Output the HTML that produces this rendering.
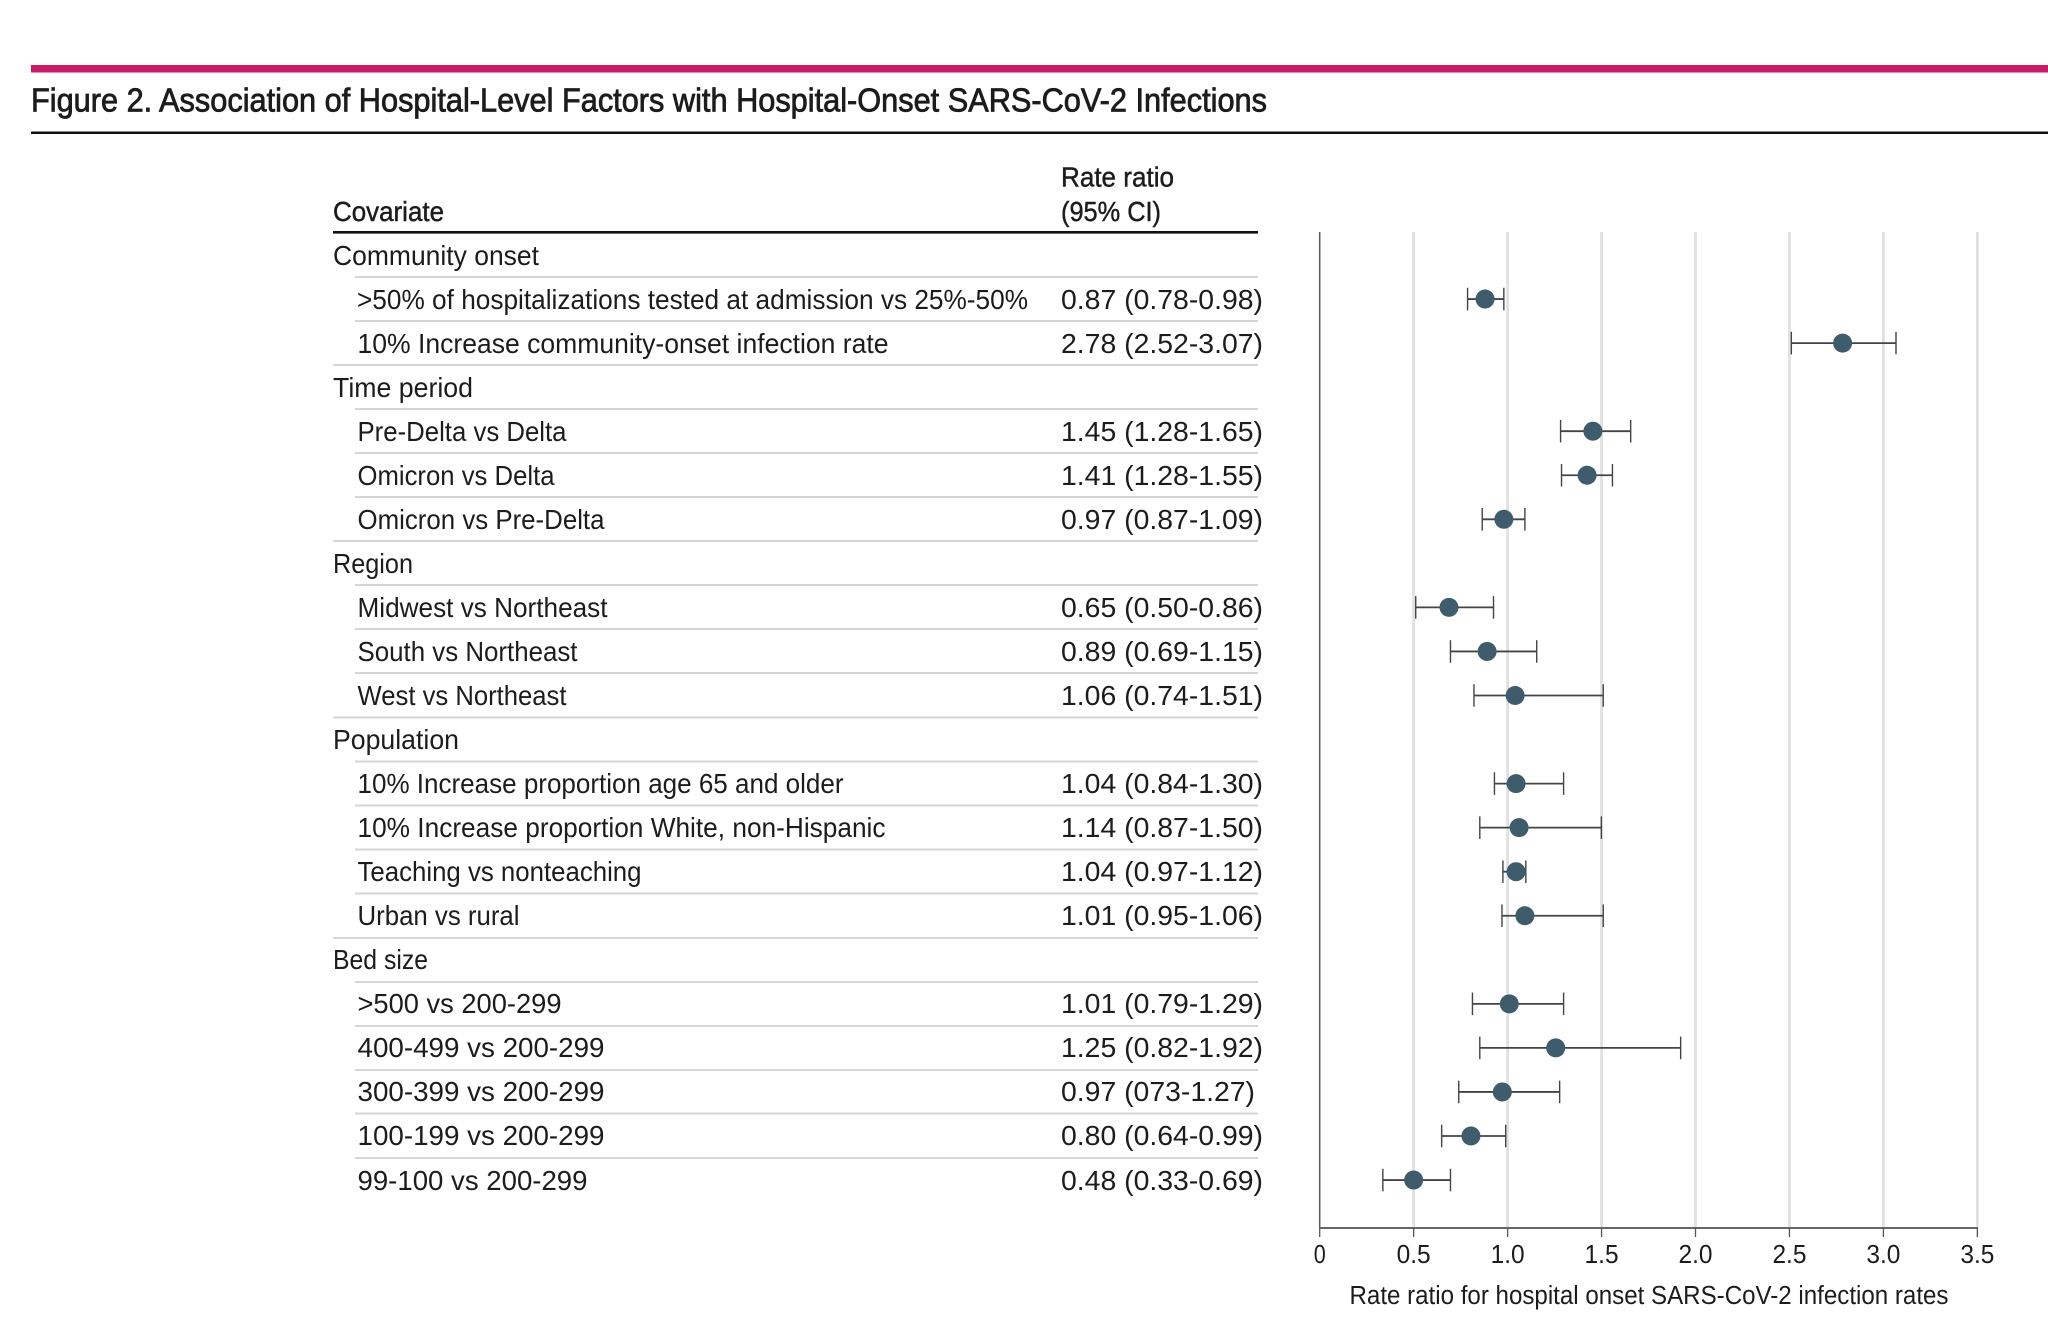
<!DOCTYPE html>
<html lang="en">
<head>
<meta charset="utf-8">
<title>Figure 2. Association of Hospital-Level Factors with Hospital-Onset SARS-CoV-2 Infections</title>
<style>
html,body{margin:0;padding:0;background:#fff;width:2048px;height:1335px;overflow:hidden}
svg{display:block}
text{font-family:"Liberation Sans Narrow","Liberation Sans",sans-serif;fill:#1c1c1c;font-size:28px}
.t{font-size:33.5px;stroke:#1c1c1c;stroke-width:.8px}
.h{font-size:28px;stroke:#1c1c1c;stroke-width:.45px}
.sep{stroke:#d6d6d4;stroke-width:2}
.tick-label{font-family:"Liberation Sans",sans-serif;font-size:25.5px}
</style>
</head>
<body>
<svg id="figure" xmlns="http://www.w3.org/2000/svg" width="2048" height="1335" viewBox="0 0 2048 1335">
  <rect x="0" y="0" width="2048" height="1335" fill="#fff"/>
  <rect x="31" y="65" width="2017" height="7.5" fill="#cb1b65"/>
  <text class="t" x="31" y="111.5" textLength="1236" lengthAdjust="spacingAndGlyphs">Figure 2. Association of Hospital-Level Factors with Hospital-Onset SARS-CoV-2 Infections</text>
  <rect x="31" y="131.5" width="2017" height="2.5" fill="#111"/>

  <g>
    <text class="h" x="333" y="221" textLength="111" lengthAdjust="spacingAndGlyphs">Covariate</text>
    <text class="h" x="1061" y="186.5" textLength="113" lengthAdjust="spacingAndGlyphs">Rate ratio</text>
    <text class="h" x="1061" y="221" textLength="100" lengthAdjust="spacingAndGlyphs">(95% CI)</text>
    <rect x="333" y="231" width="925" height="2.6" fill="#111"/>

    <g>
      <line class="sep" x1="355" x2="1258" y1="277" y2="277"/>
      <line class="sep" x1="355" x2="1258" y1="321" y2="321"/>
      <line class="sep" x1="333" x2="1258" y1="365" y2="365"/>
      <line class="sep" x1="355" x2="1258" y1="409" y2="409"/>
      <line class="sep" x1="355" x2="1258" y1="453" y2="453"/>
      <line class="sep" x1="355" x2="1258" y1="497" y2="497"/>
      <line class="sep" x1="333" x2="1258" y1="541" y2="541"/>
      <line class="sep" x1="355" x2="1258" y1="585" y2="585"/>
      <line class="sep" x1="355" x2="1258" y1="629" y2="629"/>
      <line class="sep" x1="355" x2="1258" y1="673" y2="673"/>
      <line class="sep" x1="333" x2="1258" y1="717.5" y2="717.5"/>
      <line class="sep" x1="355" x2="1258" y1="761.5" y2="761.5"/>
      <line class="sep" x1="355" x2="1258" y1="805.5" y2="805.5"/>
      <line class="sep" x1="355" x2="1258" y1="849.5" y2="849.5"/>
      <line class="sep" x1="355" x2="1258" y1="893.5" y2="893.5"/>
      <line class="sep" x1="333" x2="1258" y1="938" y2="938"/>
      <line class="sep" x1="355" x2="1258" y1="982" y2="982"/>
      <line class="sep" x1="355" x2="1258" y1="1026" y2="1026"/>
      <line class="sep" x1="355" x2="1258" y1="1070" y2="1070"/>
      <line class="sep" x1="355" x2="1258" y1="1113.5" y2="1113.5"/>
      <line class="sep" x1="355" x2="1258" y1="1158" y2="1158"/>
    </g>

    <text x="333" y="265" textLength="206" lengthAdjust="spacingAndGlyphs">Community onset</text>
    <text x="357" y="309" textLength="671" lengthAdjust="spacingAndGlyphs">&gt;50% of hospitalizations tested at admission vs 25%-50%</text>
    <text x="1061" y="309" textLength="202" lengthAdjust="spacingAndGlyphs">0.87 (0.78-0.98)</text>
    <text x="357.5" y="353" textLength="531" lengthAdjust="spacingAndGlyphs">10% Increase community-onset infection rate</text>
    <text x="1061" y="353" textLength="202" lengthAdjust="spacingAndGlyphs">2.78 (2.52-3.07)</text>

    <text x="333" y="397" textLength="140" lengthAdjust="spacingAndGlyphs">Time period</text>
    <text x="357.5" y="441" textLength="209" lengthAdjust="spacingAndGlyphs">Pre-Delta vs Delta</text>
    <text x="1061" y="441" textLength="202" lengthAdjust="spacingAndGlyphs">1.45 (1.28-1.65)</text>
    <text x="357.5" y="485" textLength="197" lengthAdjust="spacingAndGlyphs">Omicron vs Delta</text>
    <text x="1061" y="485" textLength="202" lengthAdjust="spacingAndGlyphs">1.41 (1.28-1.55)</text>
    <text x="357.5" y="529" textLength="247" lengthAdjust="spacingAndGlyphs">Omicron vs Pre-Delta</text>
    <text x="1061" y="529" textLength="202" lengthAdjust="spacingAndGlyphs">0.97 (0.87-1.09)</text>

    <text x="333" y="573" textLength="80" lengthAdjust="spacingAndGlyphs">Region</text>
    <text x="357.5" y="617" textLength="250" lengthAdjust="spacingAndGlyphs">Midwest vs Northeast</text>
    <text x="1061" y="617" textLength="202" lengthAdjust="spacingAndGlyphs">0.65 (0.50-0.86)</text>
    <text x="357.5" y="661" textLength="220" lengthAdjust="spacingAndGlyphs">South vs Northeast</text>
    <text x="1061" y="661" textLength="202" lengthAdjust="spacingAndGlyphs">0.89 (0.69-1.15)</text>
    <text x="357.5" y="705" textLength="209" lengthAdjust="spacingAndGlyphs">West vs Northeast</text>
    <text x="1061" y="705" textLength="202" lengthAdjust="spacingAndGlyphs">1.06 (0.74-1.51)</text>

    <text x="333" y="749" textLength="126" lengthAdjust="spacingAndGlyphs">Population</text>
    <text x="357.5" y="793" textLength="486" lengthAdjust="spacingAndGlyphs">10% Increase proportion age 65 and older</text>
    <text x="1061" y="793" textLength="202" lengthAdjust="spacingAndGlyphs">1.04 (0.84-1.30)</text>
    <text x="357.5" y="837" textLength="528" lengthAdjust="spacingAndGlyphs">10% Increase proportion White, non-Hispanic</text>
    <text x="1061" y="837" textLength="202" lengthAdjust="spacingAndGlyphs">1.14 (0.87-1.50)</text>
    <text x="357.5" y="881" textLength="284" lengthAdjust="spacingAndGlyphs">Teaching vs nonteaching</text>
    <text x="1061" y="881" textLength="202" lengthAdjust="spacingAndGlyphs">1.04 (0.97-1.12)</text>
    <text x="357.5" y="925" textLength="162" lengthAdjust="spacingAndGlyphs">Urban vs rural</text>
    <text x="1061" y="925" textLength="202" lengthAdjust="spacingAndGlyphs">1.01 (0.95-1.06)</text>

    <text x="333" y="969" textLength="95" lengthAdjust="spacingAndGlyphs">Bed size</text>
    <text x="357.5" y="1013" textLength="204" lengthAdjust="spacingAndGlyphs">&gt;500 vs 200-299</text>
    <text x="1061" y="1013" textLength="202" lengthAdjust="spacingAndGlyphs">1.01 (0.79-1.29)</text>
    <text x="357.5" y="1057" textLength="247" lengthAdjust="spacingAndGlyphs">400-499 vs 200-299</text>
    <text x="1061" y="1057" textLength="202" lengthAdjust="spacingAndGlyphs">1.25 (0.82-1.92)</text>
    <text x="357.5" y="1101" textLength="247" lengthAdjust="spacingAndGlyphs">300-399 vs 200-299</text>
    <text x="1061" y="1101" textLength="194" lengthAdjust="spacingAndGlyphs">0.97 (073-1.27)</text>
    <text x="357.5" y="1145" textLength="247" lengthAdjust="spacingAndGlyphs">100-199 vs 200-299</text>
    <text x="1061" y="1145" textLength="202" lengthAdjust="spacingAndGlyphs">0.80 (0.64-0.99)</text>
    <text x="357.5" y="1190" textLength="230" lengthAdjust="spacingAndGlyphs">99-100 vs 200-299</text>
    <text x="1061" y="1190" textLength="202" lengthAdjust="spacingAndGlyphs">0.48 (0.33-0.69)</text>
  </g>

  <g id="plot"></g>
</svg>

<script>
// Rows run top to bottom; null marks a group-heading row that has no mark.
const categories = ["Community onset", "tested-at-admission", "community-onset-rate", "Time period", "pre-delta-vs-delta", "omicron-vs-delta", "omicron-vs-pre-delta", "Region", "midwest", "south", "west", "Population", "age-65", "white-non-hispanic", "teaching", "urban", "Bed size", "beds-over-500", "beds-400-499", "beds-300-399", "beds-100-199", "beds-99-100"];
const pointValues = [null, 0.88, 2.783, null, 1.454, 1.423, 0.98, null, 0.688, 0.891, 1.04, null, 1.045, 1.061, 1.045, 1.092, null, 1.009, 1.256, 0.972, 0.805, 0.50];
const lowerValues = [null, 0.787, 2.51, null, 1.282, 1.287, 0.865, null, 0.511, 0.696, 0.821, null, 0.93, 0.852, 0.975, 0.97, null, 0.813, 0.852, 0.74, 0.649, 0.336];
const upperValues = [null, 0.98, 3.067, null, 1.655, 1.558, 1.092, null, 0.925, 1.155, 1.509, null, 1.298, 1.499, 1.097, 1.509, null, 1.298, 1.921, 1.277, 0.99, 0.696];
const tickValues = [0, 0.5, 1, 1.5, 2, 2.5, 3, 3.5];
const tickLabels = ["0", "0.5", "1.0", "1.5", "2.0", "2.5", "3.0", "3.5"];

const NS = "http://www.w3.org/2000/svg";
const plot = document.getElementById("plot");
const xScale = v => 1319.7 + v * 187.9;
const yScale = i => 255 + i * 44.05;
const AXIS_Y = 1228;
const TOP_Y = 232;

function make(tag, attrs, parent) {
  const el = document.createElementNS(NS, tag);
  Object.keys(attrs).forEach(k => el.setAttribute(k, attrs[k]));
  (parent || plot).appendChild(el);
  return el;
}

tickValues.forEach((v, i) => {
  if (v === 0) return;
  const grid = make("line", {x1: xScale(v), x2: xScale(v), y1: TOP_Y, y2: AXIS_Y, stroke: "#e1e1e1", "stroke-width": 2.8});
  
  
});

const yAxis = make("line", {x1: xScale(0), x2: xScale(0), y1: TOP_Y, y2: AXIS_Y, stroke: "#5a5a5a", "stroke-width": 1.5});



const xAxis = make("line", {x1: xScale(0) - 0.7, x2: xScale(3.5) + 0.7, y1: AXIS_Y, y2: AXIS_Y, stroke: "#666", "stroke-width": 2});



tickValues.forEach((v, i) => {
  const tick = make("line", {x1: xScale(v), x2: xScale(v), y1: AXIS_Y, y2: AXIS_Y + 9, stroke: "#555", "stroke-width": 1.3});
  
  
  const width = tickLabels[i].length === 1 ? 12 : 34;
  const label = make("text", {class: "tick-label", x: xScale(v) - width / 2, y: 1263, textLength: width, lengthAdjust: "spacingAndGlyphs"});
  
  
  label.textContent = tickLabels[i];
});

const xTitle = make("text", {class: "tick-label", x: 1349.5, y: 1304, textLength: 599, lengthAdjust: "spacingAndGlyphs"});


xTitle.textContent = "Rate ratio for hospital onset SARS-CoV-2 infection rates";

categories.forEach((name, i) => {
  if (pointValues[i] === null) return;
  const y = yScale(i);
  const slug = name.toLowerCase();

  const whisker = make("line", {x1: xScale(lowerValues[i]), x2: xScale(upperValues[i]), y1: y, y2: y, stroke: "#444", "stroke-width": 1.8});
  
  

  const capLow = make("line", {x1: xScale(lowerValues[i]), x2: xScale(lowerValues[i]), y1: y - 11.3, y2: y + 11.3, stroke: "#444", "stroke-width": 1.4});
  
  

  const capHigh = make("line", {x1: xScale(upperValues[i]), x2: xScale(upperValues[i]), y1: y - 11.3, y2: y + 11.3, stroke: "#444", "stroke-width": 1.4});
  
  

  const dot = make("circle", {cx: xScale(pointValues[i]), cy: y, r: 9.5, fill: "#3f5c6d"});
  
  
});
</script>
</body>
</html>
